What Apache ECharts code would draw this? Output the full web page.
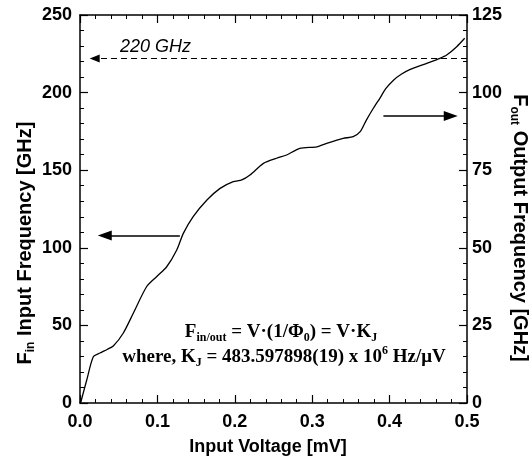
<!DOCTYPE html>
<html><head><meta charset="utf-8">
<script src="https://cdn.jsdelivr.net/npm/echarts@6/dist/echarts.min.js"></script>
<style>html,body{margin:0;padding:0;background:#fff}#c{width:531px;height:457px}</style>
</head><body><div id="c"></div>
<script>
// ---- data ----
const voltage = [0.001, 0.0087, 0.0172, 0.0258, 0.035, 0.043, 0.056, 0.069, 0.086, 0.099, 0.112, 0.125, 0.1335, 0.146, 0.164, 0.181, 0.198, 0.209, 0.2196, 0.237, 0.254, 0.267, 0.284, 0.306, 0.3187, 0.340, 0.353, 0.362, 0.370, 0.379, 0.3876, 0.395, 0.405, 0.415, 0.426, 0.448, 0.465, 0.4737, 0.4867, 0.497];
const freqIn = [0.5, 14.8, 29.8, 32.2, 34.5, 36.7, 45.1, 58, 74.9, 81.4, 87.8, 98.6, 109.3, 120, 130.8, 138.3, 142.6, 143.7, 146.9, 154.4, 157.7, 159.8, 164.1, 165.1, 167.3, 170.5, 171.6, 174.8, 182.3, 189.9, 196.5, 202.5, 208, 211.8, 214.8, 218.9, 222.1, 224.2, 229.6, 235];
const xTickLabels = ['0.0', '0.1', '0.2', '0.3', '0.4', '0.5'];
const leftTickLabels = ['0', '50', '100', '150', '200', '250'];
const rightTickLabels = ['0', '25', '50', '75', '100', '125'];
const refLevel = 222;            // dashed "220 GHz" reference line
const refLabel = '220 GHz';
const refLineV = [0.019, 0.5];
const leftArrowV = [0.129, 0.032];   // arrow pointing to left axis
const leftArrowF = 108;
const rightArrowV = [0.392, 0.479];  // arrow pointing to right axis
const rightArrowF = 185;

const sans = '"Liberation Sans", Arial, Helvetica, sans-serif';
const serif = '"Liberation Serif", "Times New Roman", serif';

const chart = echarts.init(document.getElementById('c'), null, {renderer: 'canvas'});

function axisCommon() {
  return {
    axisLine: {show: true, onZero: false, lineStyle: {color: '#000', width: 1.5}},
    axisTick: {show: true, inside: true, length: 8, lineStyle: {color: '#000', width: 1.2}},
    minorTick: {show: true, splitNumber: 5, length: 4, lineStyle: {color: '#000', width: 1}},
    splitLine: {show: false},
    minorSplitLine: {show: false}
  };
}
const tickFont = {fontSize: 18, fontWeight: 'bold', fontFamily: sans, color: '#000'};

const titleRich = {
  b: {fontSize: 20, fontWeight: 'bold', fontFamily: sans, color: '#000', lineHeight: 24},
  s: {fontSize: 12, fontWeight: 'bold', fontFamily: sans, color: '#000', lineHeight: 12, verticalAlign: 'bottom'}
};
const formRich = {
  b: {fontSize: 19, fontWeight: 'bold', fontFamily: serif, color: '#000', lineHeight: 24},
  s: {fontSize: 12, fontWeight: 'bold', fontFamily: serif, color: '#000', lineHeight: 12, verticalAlign: 'bottom'},
  p: {fontSize: 12, fontWeight: 'bold', fontFamily: serif, color: '#000', lineHeight: 12, verticalAlign: 'top'}
};

const option = {
  animation: false,
  backgroundColor: '#fff',
  grid: {left: 80, right: 64, top: 15, bottom: 54, containLabel: false},
  xAxis: [
    Object.assign(axisCommon(), {type: 'value', position: 'bottom', min: 0, max: 0.5, interval: 0.1,
      axisLabel: Object.assign({margin: 10, formatter: v => xTickLabels[Math.round(v * 10)]}, tickFont)}),
    Object.assign(axisCommon(), {type: 'value', position: 'top', min: 0, max: 0.5, interval: 0.1,
      axisLabel: {show: false}})
  ],
  yAxis: [
    Object.assign(axisCommon(), {type: 'value', position: 'left', min: 0, max: 250, interval: 50,
      axisLabel: Object.assign({margin: 8, formatter: v => leftTickLabels[Math.round(v / 50)]}, tickFont)}),
    Object.assign(axisCommon(), {type: 'value', position: 'right', min: 0, max: 125, interval: 25,
      axisLabel: Object.assign({margin: 5, formatter: v => rightTickLabels[Math.round(v / 25)]}, tickFont)})
  ],
  series: [{
    type: 'line',
    xAxisIndex: 0, yAxisIndex: 0,
    data: voltage.map((v, i) => [v, freqIn[i]]),
    symbol: 'none', showSymbol: false,
    smooth: 0.25,
    lineStyle: {color: '#000', width: 1.3},
    markLine: {
      silent: true,
      animation: false,
      label: {show: false},
      data: [
        [{coord: [refLineV[1], refLevel], symbol: 'none', lineStyle: {color: '#000', width: 1.2, type: [6, 4]}},
         {coord: [refLineV[0], refLevel], symbol: 'triangle', symbolSize: [8, 10]}],
        [{coord: [leftArrowV[0], leftArrowF], symbol: 'none', lineStyle: {color: '#000', width: 1.5, type: 'solid'}},
         {coord: [leftArrowV[1], leftArrowF], symbol: 'triangle', symbolSize: [10, 14]}],
        [{coord: [rightArrowV[0], rightArrowF], symbol: 'none', lineStyle: {color: '#000', width: 1.5, type: 'solid'}},
         {coord: [rightArrowV[1], rightArrowF], symbol: 'triangle', symbolSize: [10, 14]}]
      ]
    }
  }],
  graphic: [
    {type: 'text', x: 25, y: 243, rotation: Math.PI / 2,
     style: {text: '{b|F}{s|in}{b| Input Frequency [GHz]}', rich: titleRich, align: 'center', verticalAlign: 'middle'}},
    {type: 'text', x: 520, y: 228, rotation: -Math.PI / 2,
     style: {text: '{b|F}{s|out}{b| Output Frequency [GHz]}', rich: titleRich, align: 'center', verticalAlign: 'middle'}},
    {type: 'text', x: 268, y: 447,
     style: {text: 'Input Voltage [mV]', font: 'bold 18px ' + sans, fill: '#000', align: 'center', verticalAlign: 'middle'}},
    {type: 'text', x: 120, y: 47,
     style: {text: refLabel, font: 'italic 18px ' + sans, fill: '#000', align: 'left', verticalAlign: 'middle'}},
    {type: 'text', x: 281, y: 332,
     style: {text: '{b|F}{s|in/out}{b| = V·(1/Φ}{s|0}{b|) = V·K}{s|J}', rich: formRich, align: 'center', verticalAlign: 'middle'}},
    {type: 'text', x: 284, y: 357,
     style: {text: '{b|where, K}{s|J}{b| = 483.597898(19) x 10}{p|6}{b| Hz/μV}', rich: formRich, align: 'center', verticalAlign: 'middle'}}
  ]
};
chart.setOption(option);
</script>
</body></html>
